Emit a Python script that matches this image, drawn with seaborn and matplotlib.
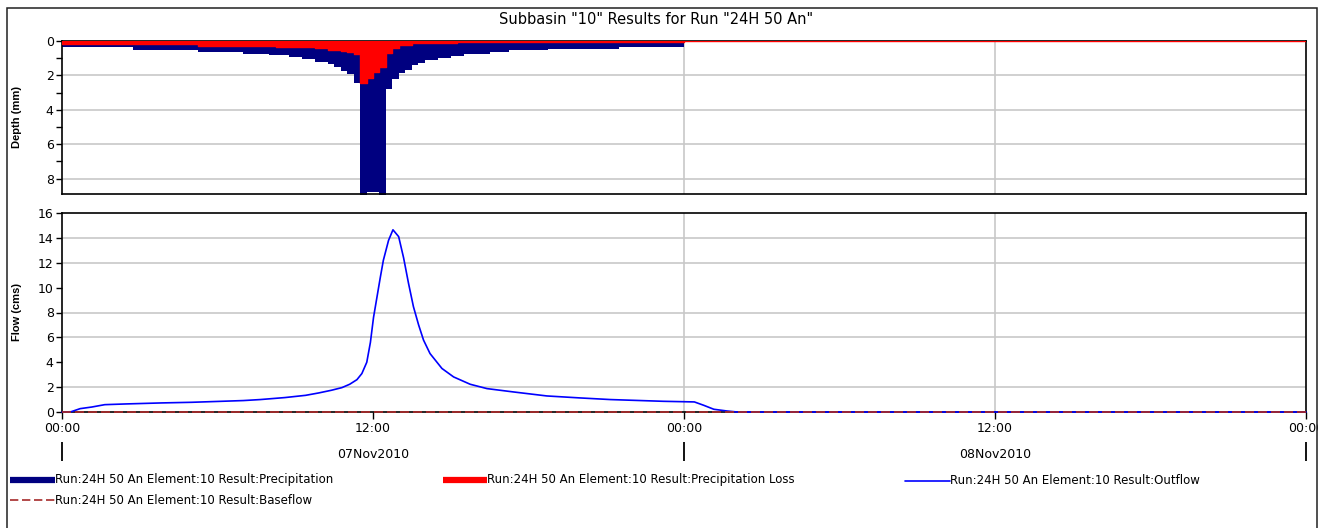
import datetime as dt
import numpy as np
import pandas as pd
import matplotlib
matplotlib.use("Agg")
import matplotlib.pyplot as plt
import seaborn as sns
from matplotlib.lines import Line2D
from matplotlib.patches import Rectangle
from matplotlib.ticker import MultipleLocator

# ---------------- data ----------------
title = 'Subbasin "10" Results for Run "24H 50 An"'
run_prefix = "Run:24H 50 An Element:10 Result:"
series_names = ["Precipitation", "Precipitation Loss", "Outflow", "Baseflow"]
start_time = dt.datetime(2010, 11, 7, 0, 0)
span_hours = 48

# precipitation blocks (hours from start, depth mm per block)
precip_edges_h = [0, 2.75, 5.25, 7.0, 8.0, 8.75, 9.25, 9.75, 10.25, 10.5, 10.75, 11.0,
                  11.25, 11.5, 11.75, 12.25, 12.5, 12.75, 13.0, 13.25, 13.5, 13.75, 14.0,
                  14.5, 15.0, 15.5, 16.5, 17.25, 18.75, 21.5, 24.0, 48.0]
precip_mm = [0.35, 0.50, 0.66, 0.73, 0.82, 0.92, 1.06, 1.20, 1.36, 1.52, 1.72,
             1.90, 2.47, 9.60, 8.80, 9.60, 2.78, 2.20, 1.86, 1.67, 1.42, 1.26,
             1.13, 1.01, 0.89, 0.78, 0.66, 0.54, 0.45, 0.35, 0.0]

# precipitation loss blocks
loss_edges_h = [0, 5.25, 8.25, 9.75, 10.25, 10.75, 11.0, 11.25, 11.5, 11.75, 12.0,
                12.25, 12.5, 12.75, 13.0, 13.5, 15.25, 24.0, 48.0]
loss_mm = [0.19, 0.27, 0.35, 0.42, 0.50, 0.58, 0.66, 0.75, 2.47, 2.13, 1.78,
           1.49, 0.72, 0.40, 0.25, 0.12, 0.05, 0.0]

# outflow hydrograph
outflow_h = [0, 0.35, 0.7, 1.15, 1.65, 2.5, 3.85, 5.0, 6.15, 7.0, 7.65, 8.6, 9.4, 9.9,
             10.4, 10.8, 11.1, 11.38, 11.57, 11.76, 11.9, 12.02, 12.15, 12.28, 12.4,
             12.6, 12.77, 12.99, 13.18, 13.37, 13.56, 13.76, 13.95, 14.2, 14.66, 15.11,
             15.75, 16.4, 17.43, 18.71, 20.0, 21.16, 23.2, 24.4, 24.76, 25.15, 25.66,
             26.05, 48.0]
outflow_cms = [0, 0.02, 0.27, 0.40, 0.59, 0.65, 0.73, 0.78, 0.86, 0.92, 1.00, 1.16,
               1.34, 1.53, 1.75, 1.96, 2.23, 2.60, 3.09, 4.00, 5.60, 7.60, 9.20, 10.8,
               12.2, 13.8, 14.65, 14.1, 12.4, 10.35, 8.47, 7.00, 5.78, 4.70, 3.50, 2.82,
               2.23, 1.88, 1.61, 1.29, 1.13, 1.00, 0.86, 0.81, 0.54, 0.22, 0.08, 0.0, 0.0]

baseflow_h = [0, 48.0]
baseflow_cms = [0.0, 0.0]

depth_ticks = [0, 2, 4, 6, 8]
flow_ticks = [0, 2, 4, 6, 8, 10, 12, 14, 16]
flow_grid = [2, 6, 8, 12, 14]
depth_grid = [2, 4, 6, 8]
time_grid_h = [24, 36]
time_ticks_h = [0, 12, 24, 36, 48]
day_ticks_h = [0, 24, 48]
day_label_h = [12, 36]

# ---------------- style ----------------
sns.set_style("white")
plt.rcParams["font.family"] = ["DejaVu Sans"]
plt.rcParams["text.color"] = "black"
plt.rcParams["axes.labelcolor"] = "black"
plt.rcParams["xtick.color"] = "black"
plt.rcParams["ytick.color"] = "black"

NAVY = "#000080"
RED = "#FF0000"
BLUE = "#0000FF"
BROWN = "#A52A2A"
GRID = "#C8C8C8"

W, H = 1321, 528
fig = plt.figure(figsize=(W / 100, H / 100), dpi=100)


def rect(l, t, r, b):
    return [l / W, 1 - b / H, (r - l) / W, (b - t) / H]


ax1 = fig.add_axes(rect(62, 41, 1306, 194))
ax2 = fig.add_axes(rect(62, 213, 1306, 412))

# ---------------- top panel: hyetograph ----------------
p_y = precip_mm + [precip_mm[-1]]
l_y = loss_mm + [loss_mm[-1]]
ax1.fill_between(precip_edges_h, 0, p_y, step="post", color=NAVY, lw=0, zorder=2)
ax1.fill_between(loss_edges_h, 0, l_y, step="post", color=RED, lw=0, zorder=3)
sns.lineplot(x=loss_edges_h, y=l_y, drawstyle="steps-post", color=RED, lw=1.0,
             ax=ax1, zorder=4, sort=False, estimator=None)
ax1.set_xlim(0, span_hours)
ax1.set_ylim(8.9, 0)
ax1.set_yticks(depth_ticks)
ax1.yaxis.set_minor_locator(MultipleLocator(1))
ax1.set_xticks([])
for v in depth_grid:
    ax1.axhline(v, color=GRID, lw=1.2, zorder=1)
for v in time_grid_h:
    ax1.axvline(v, color=GRID, lw=1.2, zorder=1)
ax1.set_ylabel("Depth (mm)", fontsize=8, fontweight="bold",
               family=["Liberation Sans", "DejaVu Sans"])
ax1.yaxis.set_label_coords(-0.032, 0.5)

# ---------------- bottom panel: hydrograph ----------------
sns.lineplot(x=outflow_h, y=outflow_cms, color=BLUE, lw=1.2, ax=ax2, zorder=5,
             sort=False, estimator=None, clip_on=False)
sns.lineplot(x=baseflow_h, y=baseflow_cms, color=BROWN, lw=1.3, ax=ax2, zorder=6,
             sort=False, estimator=None, clip_on=False)
ax2.lines[-1].set_linestyle((0, (5.0, 2.2)))
ax2.set_xlim(0, span_hours)
ax2.set_ylim(0, 16)
ax2.set_yticks(flow_ticks)
for v in flow_grid:
    ax2.axhline(v, color=GRID, lw=1.2, zorder=1)
for v in time_grid_h:
    ax2.axvline(v, color=GRID, lw=1.2, zorder=1)
ax2.set_xticks(time_ticks_h)
ax2.set_xticklabels([(start_time + dt.timedelta(hours=h)).strftime("%H:%M") for h in time_ticks_h])
ax2.set_ylabel("Flow (cms)", fontsize=8, fontweight="bold",
               family=["Liberation Sans", "DejaVu Sans"])
ax2.yaxis.set_label_coords(-0.032, 0.5)
ax2.set_xlabel("")

for ax in (ax1, ax2):
    for s in ax.spines.values():
        s.set_visible(True)
        s.set_color("black")
        s.set_linewidth(1.2)
        s.set_zorder(2.5)
    ax.tick_params(axis="y", which="both", direction="out", length=4, width=1,
                   labelsize=9, pad=2, left=True, colors="black")
ax2.tick_params(axis="x", which="major", direction="out", length=5, width=1,
                labelsize=9, pad=2, bottom=True, colors="black")

# date axis below
sec = ax2.secondary_xaxis(location=-0.153)
sec.spines["bottom"].set_visible(False)
sec.set_xticks(day_ticks_h)
sec.set_xticklabels(["" for _ in day_ticks_h])
sec.set_xticks(day_label_h,
               labels=[(start_time + dt.timedelta(hours=h)).strftime("%d%b%Y") for h in day_label_h],
               minor=True)
sec.tick_params(axis="x", which="major", direction="out", length=14, width=1.3,
                bottom=True, colors="black")
sec.tick_params(axis="x", which="minor", length=0, labelsize=9, pad=4, colors="black")

# title
fig.text(656 / W, 1 - 19 / H, title, ha="center", va="center", fontsize=10.5)

# legend (manual, like the HEC-HMS layout)
def fig_line(x0, x1, y, **kw):
    fig.add_artist(Line2D([x0 / W, x1 / W], [1 - y / H, 1 - y / H],
                          transform=fig.transFigure, **kw))

legend_items = [
    (10, 55, 480, dict(color=NAVY, lw=4.5, solid_capstyle="butt")),
    (443, 487, 480, dict(color=RED, lw=4.5, solid_capstyle="butt")),
    (905, 950, 481, dict(color=BLUE, lw=1.2)),
    (10, 55, 500, dict(color=BROWN, lw=1.2, linestyle=(0, (5.0, 2.2)))),
]
for (x0, x1, y, kw), name in zip(legend_items, series_names):
    fig_line(x0, x1, y, **kw)
    fig.text(x1 / W, 1 - y / H, run_prefix + name, ha="left", va="center", fontsize=8.5)

# outer frame (the reference cuts the last time label at the window edge)
fig.add_artist(Rectangle((1317.5 / W, 0), 4 / W, 1, transform=fig.transFigure,
                         facecolor="white", edgecolor="none", zorder=10))
fig.add_artist(Rectangle((7 / W, -0.05), (1317 - 7) / W, 1 - 8 / H + 0.05,
                         transform=fig.transFigure, fill=False, edgecolor="#202020",
                         lw=1.1, zorder=11))

fig.savefig("out.png", dpi=100, facecolor="white")
